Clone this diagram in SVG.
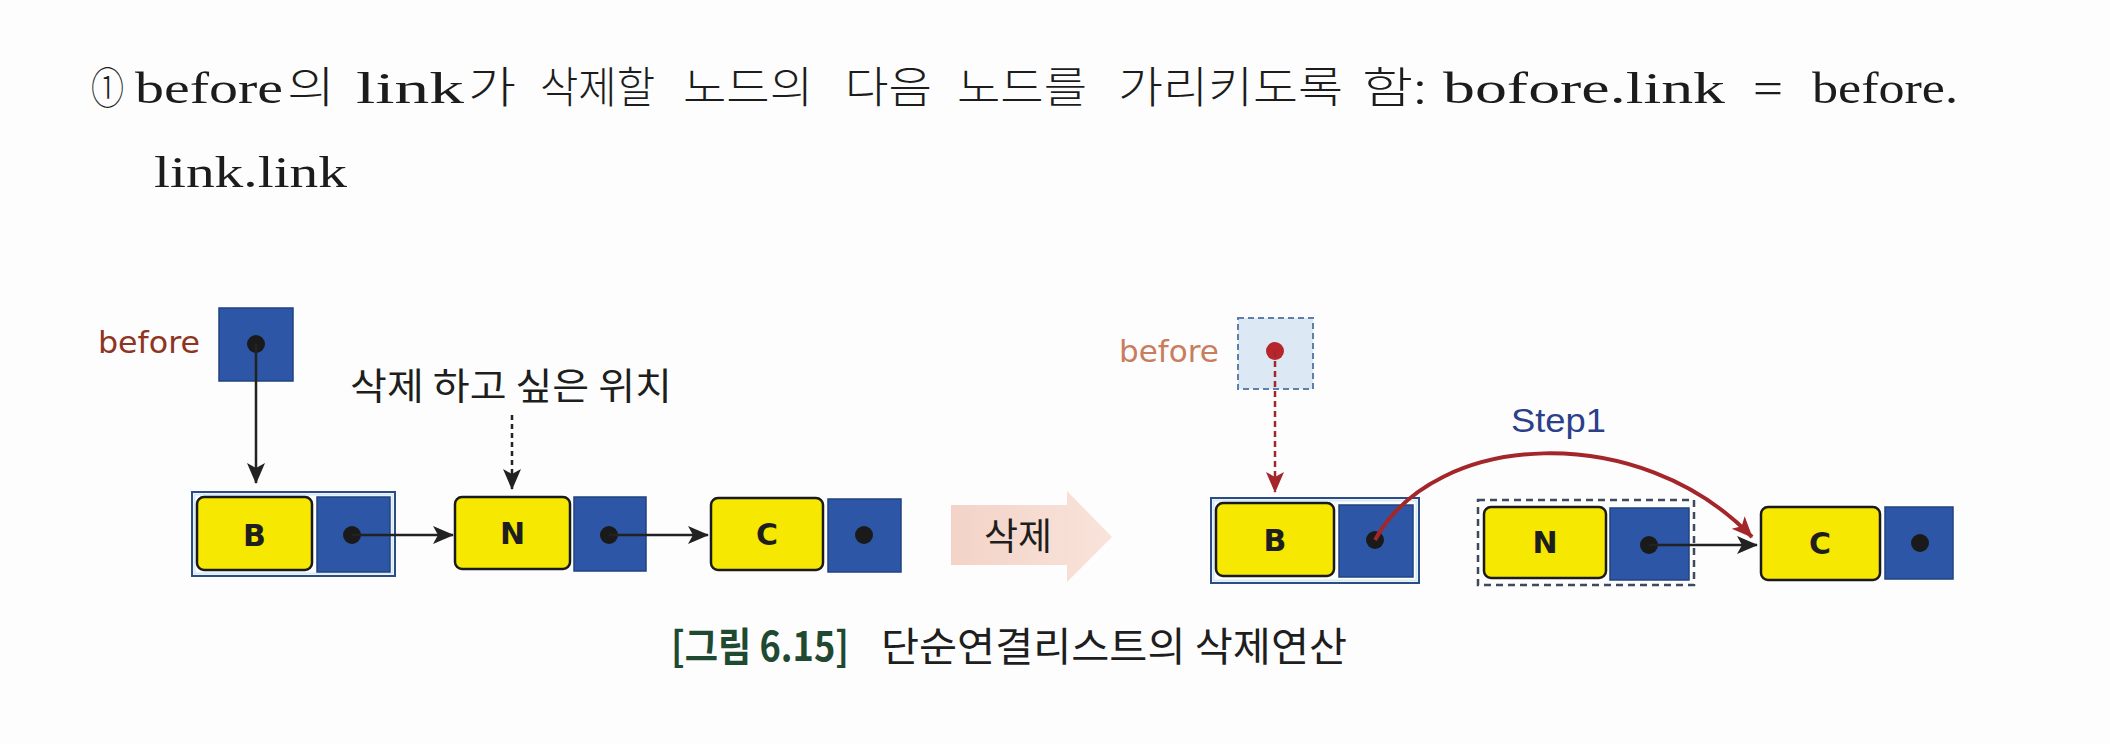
<svg xmlns="http://www.w3.org/2000/svg" width="2110" height="744" viewBox="0 0 2110 744">
<defs>
<style>
.title{font-family:"Liberation Serif","Noto Sans CJK KR",serif;font-size:45px;fill:#1c1c1c}
.tko{font-family:"Noto Sans CJK KR","Noto Sans",sans-serif;font-size:43px;font-weight:300;fill:#1c1c1c}
.ko{font-family:"Noto Sans CJK KR","Noto Sans",sans-serif;fill:#1e1e1e}
.yel{fill:#f6e800;stroke:#1a1a1a;stroke-width:2.5}
.blu{fill:#2d57a6;stroke:#21437f;stroke-width:1.5}
.dot{fill:#1a1a1a}
.lbl{font-family:"DejaVu Sans",sans-serif;font-size:30px;font-weight:bold;fill:#1e1e1e;text-anchor:middle}
.arr{stroke:#222;stroke-width:2.5;fill:none}
.bef{font-family:"DejaVu Sans",sans-serif;font-size:31px}
</style>
<marker id="ah" markerUnits="userSpaceOnUse" markerWidth="22" markerHeight="20" refX="20" refY="10" orient="auto" viewBox="0 0 22 20"><path d="M0,1 L21,10 L0,19 L5,10 z" fill="#222"/></marker>
<marker id="ahr" markerUnits="userSpaceOnUse" markerWidth="22" markerHeight="20" refX="20" refY="10" orient="auto" viewBox="0 0 22 20"><path d="M0,1 L21,10 L0,19 L5,10 z" fill="#a3272a"/></marker>
<linearGradient id="pink" x1="0" y1="0" x2="1" y2="0"><stop offset="0" stop-color="#f3d3c7"/><stop offset="1" stop-color="#f9e3da"/></linearGradient>
</defs>
<rect width="2110" height="744" fill="#fdfdfd"/>

<g id="title">
<text class="tko" x="91" y="104" textLength="33" lengthAdjust="spacingAndGlyphs">①</text>
<text class="title" x="135" y="103" textLength="148" lengthAdjust="spacingAndGlyphs">before</text>
<text class="tko" x="287" y="103" textLength="48" lengthAdjust="spacingAndGlyphs">의</text>
<text class="title" x="356" y="103" textLength="108" lengthAdjust="spacingAndGlyphs">link</text>
<text class="tko" x="468" y="103" textLength="48" lengthAdjust="spacingAndGlyphs">가</text>
<text class="tko" x="540" y="103" textLength="115" lengthAdjust="spacingAndGlyphs">삭제할</text>
<text class="tko" x="683" y="103" textLength="130" lengthAdjust="spacingAndGlyphs">노드의</text>
<text class="tko" x="845" y="103" textLength="87" lengthAdjust="spacingAndGlyphs">다음</text>
<text class="tko" x="957" y="103" textLength="130" lengthAdjust="spacingAndGlyphs">노드를</text>
<text class="tko" x="1118" y="103" textLength="225" lengthAdjust="spacingAndGlyphs">가리키도록</text>
<text class="tko" x="1362" y="103" textLength="65" lengthAdjust="spacingAndGlyphs">함:</text>
<text class="title" x="1443" y="103" textLength="282" lengthAdjust="spacingAndGlyphs">bofore.link</text>
<text class="title" x="1753" y="103" textLength="30" lengthAdjust="spacingAndGlyphs">=</text>
<text class="title" x="1812" y="103" textLength="146" lengthAdjust="spacingAndGlyphs">before.</text>
<text class="title" x="154" y="187" textLength="193" lengthAdjust="spacingAndGlyphs">link.link</text>
</g>

<g id="left-before">
<text class="bef" x="98" y="353" fill="#8e3421" textLength="102" lengthAdjust="spacingAndGlyphs">before</text>
<rect class="blu" x="219" y="308" width="74" height="73"/>
<circle class="dot" cx="256" cy="344" r="9"/>
</g>

<g id="left-B">
<rect x="192" y="492" width="203" height="84" fill="#fdfdfd" stroke="#2b4c85" stroke-width="2"/>
<rect x="194.5" y="494.5" width="198" height="79" fill="none" stroke="#d6ebf7" stroke-width="2"/>
<rect class="yel" x="197" y="497" width="115" height="73" rx="7"/>
<rect class="blu" x="317" y="497" width="73" height="75"/>
<circle class="dot" cx="352" cy="535" r="9"/>
<text class="lbl" x="254.5" y="546">B</text>
</g>

<g id="left-N">
<rect class="yel" x="455" y="497" width="115" height="72" rx="7"/>
<rect class="blu" x="574" y="497" width="72" height="74"/>
<circle class="dot" cx="609" cy="535" r="9"/>
<text class="lbl" x="512.5" y="544">N</text>
</g>

<g id="left-C">
<rect class="yel" x="711" y="498" width="112" height="72" rx="7"/>
<rect class="blu" x="828" y="499" width="73" height="73"/>
<circle class="dot" cx="864" cy="535" r="9"/>
<text class="lbl" x="767" y="545">C</text>
</g>

<g id="annotation">
<text class="ko" x="350" y="400" font-size="37" textLength="322" lengthAdjust="spacingAndGlyphs">삭제 하고 싶은 위치</text>
</g>

<g id="delete-arrow">
<polygon points="951,505 1067,505 1067,491 1112,537 1067,582 1067,565 951,565" fill="url(#pink)"/>
<text class="ko" x="1018" y="550" font-size="37" text-anchor="middle">삭제</text>
</g>

<g id="right-before">
<text class="bef" x="1119" y="362" fill="#c97d5e" textLength="100" lengthAdjust="spacingAndGlyphs">before</text>
<rect x="1238" y="318" width="75" height="71" fill="#dce9f5" stroke="#5c80a8" stroke-width="2" stroke-dasharray="6,4"/>
<circle cx="1275" cy="351" r="9" fill="#b7262b"/>
</g>

<g id="right-B">
<rect x="1211" y="498" width="208" height="85" fill="#fdfdfd" stroke="#2b4c85" stroke-width="2"/>
<rect x="1213.5" y="500.5" width="203" height="80" fill="none" stroke="#d6ebf7" stroke-width="2"/>
<rect class="yel" x="1216" y="503" width="118" height="73" rx="7"/>
<rect class="blu" x="1339" y="505" width="74" height="72"/>
<circle class="dot" cx="1375" cy="540" r="9"/>
<text class="lbl" x="1275" y="551">B</text>
</g>

<g id="right-N">
<rect x="1478" y="500" width="216" height="85" fill="none" stroke="#3d4a5c" stroke-width="2.5" stroke-dasharray="7,5"/>
<rect class="yel" x="1484" y="507" width="122" height="71" rx="7"/>
<rect class="blu" x="1610" y="508" width="79" height="72"/>
<circle class="dot" cx="1649" cy="545" r="9"/>
<text class="lbl" x="1545" y="553">N</text>
</g>

<g id="right-C">
<rect class="yel" x="1761" y="507" width="119" height="73" rx="7"/>
<rect class="blu" x="1885" y="507" width="68" height="72"/>
<circle class="dot" cx="1920" cy="543" r="9"/>
<text class="lbl" x="1820" y="554">C</text>
</g>

<g id="step1-label">
<text x="1511" y="432" font-family="Liberation Sans, sans-serif" font-size="34" fill="#2c3f8a" textLength="95" lengthAdjust="spacingAndGlyphs">Step1</text>
</g>

<g id="connectors">
<line class="arr" x1="256" y1="344" x2="256" y2="483" marker-end="url(#ah)"/>
<line class="arr" x1="512" y1="415" x2="512" y2="489" stroke-dasharray="5,4" marker-end="url(#ah)"/>
<line class="arr" x1="352" y1="535" x2="453" y2="535" marker-end="url(#ah)"/>
<line class="arr" x1="609" y1="535" x2="708" y2="535" marker-end="url(#ah)"/>
<line x1="1275" y1="351" x2="1275" y2="492" stroke="#a3272a" stroke-width="2.5" stroke-dasharray="6,4" marker-end="url(#ahr)"/>
<path d="M1375,540 C1435,430 1640,420 1752,537" fill="none" stroke="#a3272a" stroke-width="4" marker-end="url(#ahr)"/>
<line class="arr" x1="1649" y1="545" x2="1757" y2="545" marker-end="url(#ah)"/>
</g>

<g id="caption">
<text x="671" y="661" font-family="Noto Sans CJK KR, sans-serif" font-weight="bold" font-size="40" fill="#1f4a31" textLength="178" lengthAdjust="spacingAndGlyphs">[그림 6.15]</text>
<text x="881" y="661" font-family="Noto Sans CJK KR, sans-serif" font-size="40" fill="#1e1e1e" textLength="466" lengthAdjust="spacingAndGlyphs">단순연결리스트의 삭제연산</text>
</g>
</svg>
